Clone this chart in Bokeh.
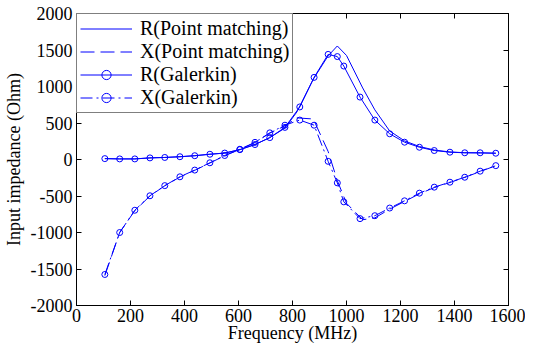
from bokeh.plotting import figure
from bokeh.models import (Range1d, FixedTicker, LinearAxis, Legend, LegendItem,
                          CustomJSTickFormatter)
from bokeh.embed import file_html
from bokeh.resources import INLINE

# ---- data ----
freq_gal = [105, 160, 216, 272, 327, 383, 438, 494, 549, 605, 661, 716, 772, 827,
            880, 932, 966, 990, 1050, 1105, 1160, 1215, 1270, 1325, 1383, 1438, 1495, 1553]
r_gal = [12, 8, 8, 22, 28, 38, 52, 72, 88, 135, 205, 300, 440, 720,
         1125, 1440, 1410, 1280, 855, 540, 352, 237, 168, 123, 100, 92, 92, 86]
x_gal = [-1575, -1000, -695, -497, -358, -237, -145, -45, 55, 140, 235, 365, 470, 540,
         470, -25, -320, -580, -810, -770, -665, -566, -461, -379, -311, -243, -160, -84]

freq_pm = [105, 160, 216, 272, 327, 383, 438, 494, 549, 605, 661, 716, 772, 816,
           877, 932, 966, 1000, 1060, 1105, 1160, 1215, 1270, 1325, 1383, 1438, 1495, 1553]
r_pm = [12, 8, 8, 22, 28, 38, 52, 72, 88, 135, 205, 300, 430, 650,
        1100, 1420, 1555, 1425, 980, 680, 390, 255, 178, 130, 103, 93, 90, 86]
x_pm = [-1590, -1000, -700, -500, -360, -240, -148, -48, 52, 138, 232, 362, 460, 570,
        555, 110, -290, -600, -825, -800, -680, -575, -470, -385, -315, -245, -165, -85]

x_ticks = [0, 200, 400, 600, 800, 1000, 1200, 1400, 1600]
y_ticks = [-2000, -1500, -1000, -500, 0, 500, 1000, 1500, 2000]

legend_labels = ["R(Point matching)", "X(Point matching)", "R(Galerkin)", "X(Galerkin)"]

FONT = "Liberation Serif"
FS = "18px"
BLUE = "#0000ff"

p = figure(width=525, height=345, output_backend="svg", toolbar_location=None,
           x_range=Range1d(0, 1600), y_range=Range1d(-2000, 2000),
           min_border_left=70, min_border_right=17, min_border_top=13, min_border_bottom=30)
p.outline_line_color = "black"
p.outline_line_width = 1
p.grid.visible = False
p.background_fill_color = "white"
p.border_fill_color = "white"

p.xaxis.axis_label = "Frequency (MHz)"
p.yaxis.axis_label = "Input impedance (Ohm)"
p.xaxis.ticker = FixedTicker(ticks=x_ticks)
p.yaxis.ticker = FixedTicker(ticks=y_ticks)
p.xaxis.formatter = CustomJSTickFormatter(code="return String(tick);")
p.yaxis.formatter = CustomJSTickFormatter(code="return String(tick);")

for ax in [p.xaxis[0], p.yaxis[0]]:
    ax.axis_label_text_font = FONT
    ax.axis_label_text_font_size = FS
    ax.axis_label_text_font_style = "normal"
    ax.major_label_text_font = FONT
    ax.major_label_text_font_size = FS
    ax.major_tick_in = 5
    ax.major_tick_out = 0
    ax.minor_tick_line_color = None
    ax.axis_line_color = "black"
    ax.major_tick_line_color = "black"
    ax.major_label_text_color = "black"
    ax.axis_label_text_color = "black"
p.xaxis.major_label_standoff = 3
p.xaxis.axis_label_standoff = -2
p.yaxis.major_label_standoff = 4
p.yaxis.axis_label_standoff = 4

blank = CustomJSTickFormatter(code="return '';")
top = LinearAxis(ticker=FixedTicker(ticks=x_ticks), formatter=blank,
                 major_tick_in=5, major_tick_out=0, minor_tick_line_color=None,
                 major_label_standoff=0, major_label_text_font_size="1px")
right = LinearAxis(ticker=FixedTicker(ticks=y_ticks), formatter=blank,
                   major_tick_in=5, major_tick_out=0, minor_tick_line_color=None,
                   major_label_standoff=0, major_label_text_font_size="1px")
p.add_layout(top, "above")
p.add_layout(right, "right")

r1 = p.line(freq_pm, r_pm, line_color=BLUE, line_width=1)
r2 = p.line(freq_pm, x_pm, line_color=BLUE, line_width=1, line_dash="14 6")
r3l = p.line(freq_gal, r_gal, line_color=BLUE, line_width=1)
r3m = p.scatter(freq_gal, r_gal, marker="circle", size=6, line_color=BLUE,
                fill_color=None, line_width=1)
r4l = p.line(freq_gal, x_gal, line_color=BLUE, line_width=1, line_dash="12 4 2 4")
r4m = p.scatter(freq_gal, x_gal, marker="circle", size=6, line_color=BLUE,
                fill_color=None, line_width=1)

legend = Legend(items=[
    LegendItem(label=legend_labels[0], renderers=[r1]),
    LegendItem(label=legend_labels[1], renderers=[r2]),
    LegendItem(label=legend_labels[2], renderers=[r3l, r3m]),
    LegendItem(label=legend_labels[3], renderers=[r4l, r4m]),
], location="top_left")
legend.margin = 0
legend.padding = 3
legend.spacing = 0
legend.glyph_width = 52
legend.glyph_height = 23
legend.label_height = 23
legend.label_standoff = 8
legend.label_text_font = FONT
legend.label_text_font_size = "20px"
legend.label_text_color = "black"
legend.border_line_color = "black"
legend.border_line_width = 1
legend.background_fill_color = "white"
legend.background_fill_alpha = 1
p.add_layout(legend, "center")

open("out.html", "w").write(file_html(p, INLINE))
